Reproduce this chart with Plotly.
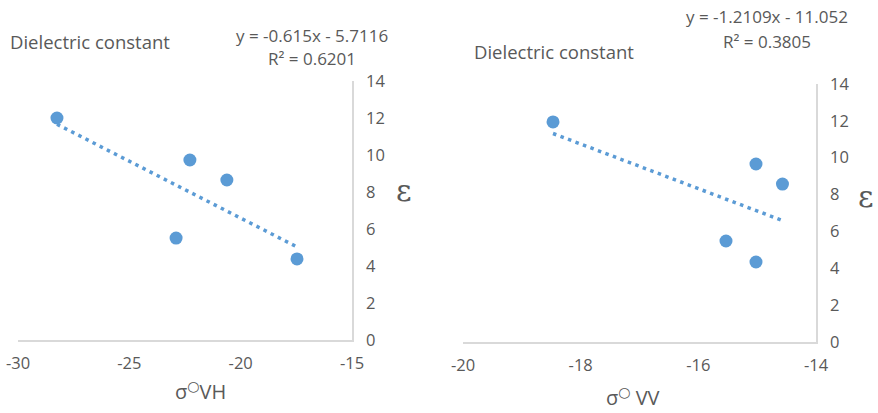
import plotly.graph_objects as go
import numpy as np

# Data
vh_x = [-28.25, -22.28, -20.62, -22.9, -17.47]
vh_y = [12.0, 9.73, 8.65, 5.51, 4.38]
vv_x = [-18.47, -15.02, -14.57, -15.53, -15.02]
vv_y = [11.94, 9.66, 8.57, 5.48, 4.34]

vh_fit = [-0.615, -5.7116]   # slope, intercept
vv_fit = [-1.2109, -11.052]
vh_eq = ["y = -0.615x - 5.7116", "R² = 0.6201"]
vv_eq = ["y = -1.2109x - 11.052", "R² = 0.3805"]
y_ticks = [0, 2, 4, 6, 8, 10, 12, 14]
vh_xticks = [-30, -25, -20, -15]
vv_xticks = [-20, -18, -16, -14]

W, H = 878, 413
BLUE = "#5B9BD5"
GRAY = "#595959"
AX = "#D9D9D9"
FONT = "Open Sans"

fig = go.Figure()

def add_panel(xs, ys, fit, xa, ya):
    lx = np.array([min(xs), max(xs)])
    ly = fit[0] * lx + fit[1]
    fig.add_trace(go.Scatter(x=lx, y=ly, mode="lines",
                             line=dict(color=BLUE, width=3.5, dash="3.5px,4.5px"),
                             xaxis=xa, yaxis=ya, showlegend=False))
    fig.add_trace(go.Scatter(x=xs, y=ys, mode="markers",
                             marker=dict(color=BLUE, size=13),
                             xaxis=xa, yaxis=ya, showlegend=False))

add_panel(vh_x, vh_y, vh_fit, "x", "y")
add_panel(vv_x, vv_y, vv_fit, "x2", "y2")

def px(x): return x / W
def py(y): return 1 - y / H

axis_common = dict(showgrid=False, zeroline=False, showline=True, linecolor=AX,
                   linewidth=1.5, ticks="", automargin=False,
                   tickfont=dict(family=FONT, size=16.5, color=GRAY))

def lbl(v): return [str(t) for t in v]

fig.update_layout(
    width=W, height=H, margin=dict(l=0, r=0, t=0, b=0),
    paper_bgcolor="white", plot_bgcolor="white",
    xaxis=dict(domain=[px(18), px(352)], range=[-30, -15], tickvals=vh_xticks,
               ticktext=lbl(vh_xticks), ticklabelstandoff=7, anchor="y", **axis_common),
    yaxis=dict(domain=[py(340), py(81)], range=[0, 14], tickvals=y_ticks,
               ticktext=lbl(y_ticks), ticklabelstandoff=9,
               side="right", anchor="x", **axis_common),
    xaxis2=dict(domain=[px(463), px(816)], range=[-20, -14], tickvals=vv_xticks,
                ticktext=lbl(vv_xticks), ticklabelstandoff=7, anchor="y2", **axis_common),
    yaxis2=dict(domain=[py(342), py(84)], range=[0, 14], tickvals=y_ticks,
                ticktext=lbl(y_ticks), ticklabelstandoff=9,
                side="right", anchor="x2", **axis_common),
)

DEG = "<span style='font-family:DejaVu Sans'><sup>○</sup></span>"
anns = [
    dict(x=px(8), y=py(42), text="Dielectric constant", xanchor="left", size=18.5),
    dict(x=px(472), y=py(52), text="Dielectric constant", xanchor="left", size=18.5),
    dict(x=px(312), y=py(35), text=vh_eq[0], xanchor="center", size=17),
    dict(x=px(312), y=py(59), text=vh_eq[1], xanchor="center", size=17),
    dict(x=px(767), y=py(17), text=vv_eq[0], xanchor="center", size=17),
    dict(x=px(767), y=py(42), text=vv_eq[1], xanchor="center", size=17),
    dict(x=px(200), y=py(391), text="σ" + DEG + "VH", xanchor="center", size=20),
    dict(x=px(633), y=py(397), text="σ" + DEG + " VV", xanchor="center", size=20),
    dict(x=px(404), y=py(191), text="ε", xanchor="center", size=30),
    dict(x=px(866), y=py(196), text="ε", xanchor="center", size=30),
]
for a in anns:
    fig.add_annotation(x=a["x"], y=a["y"], xref="paper", yref="paper", text=a["text"],
                       showarrow=False, xanchor=a["xanchor"], yanchor="middle",
                       font=dict(family="DejaVu Serif" if a["text"] == "ε" else FONT,
                                 size=a["size"], color=GRAY))

fig.write_html("out.html", config={"displayModeBar": False},
               post_script="document.body.style.margin='0';document.body.style.overflow='hidden';")
